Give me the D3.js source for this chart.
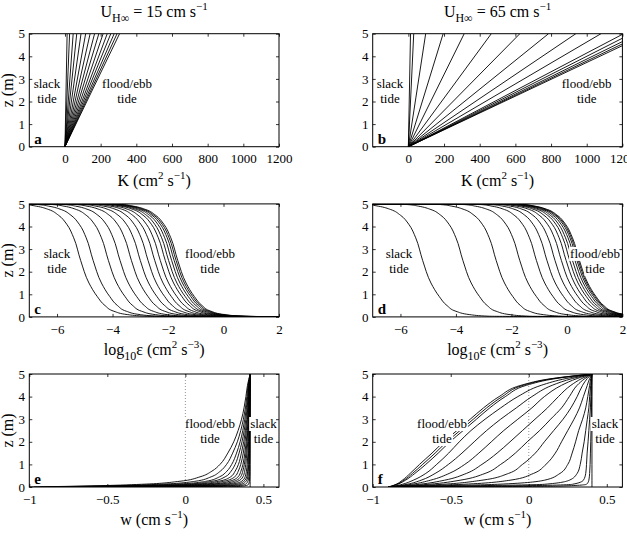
<!DOCTYPE html>
<html><head><meta charset="utf-8">
<script src="https://cdn.jsdelivr.net/npm/d3@7"></script>
<style>body{margin:0;background:#fff}svg{display:block}</style>
</head><body><svg id="chart" width="627" height="542"></svg>
<script>
// ---------- data ----------
const speeds = [15, 65];
const panelLetters = ["a","b","c","d","e","f"];
const zTicks = [0,1,2,3,4,5];
const zTickLabels = ["0","1","2","3","4","5"];
const kTicks = [0,200,400,600,800,1000,1200];
const kTickLabels = ["0","200","400","600","800","1000","1200"];
const epsTicks = [-6,-4,-2,0,2];
const epsTickLabels = ["−6","−4","−2","0","2"];
const wTicks = [-1,-0.5,0,0.5];
const wTickLabels = ["−1","−0.5","0","0.5"];

// K at the surface (z = 5 m) for each tidal phase; K grows linearly from the bed
const kTopA = [12, 26, 46, 66, 90, 116, 141, 166, 190, 214, 237, 257, 276, 292, 306];
const kTopB = [12, 30, 97, 195, 313, 465, 625, 786, 939, 1080, 1207, 1250, 1290, 1319, 1342];

// log10 epsilon profiles at these heights
const zEps = [5, 4.97, 4.9, 4.75, 4.5, 4.1, 3.5, 2.5, 1.5, 0.9, 0.5, 0.25, 0.1, 0.03, 0];
const epsC = [
 [-7.5,-7.15,-6.75,-6.3,-5.95,-5.65,-5.4,-5.15,-4.85,-4.55,-4.27,-3.95,-3.45,-2.75,2.5],
 [-7.5,-6.7,-6.3,-5.85,-5.5,-5.2,-4.95,-4.7,-4.4,-4.1,-3.82,-3.5,-3.0,-2.3,2.5],
 [-7.5,-6.15,-5.75,-5.3,-4.95,-4.65,-4.4,-4.15,-3.85,-3.55,-3.27,-2.95,-2.45,-1.75,2.5],
 [-7.5,-5.73,-5.33,-4.88,-4.53,-4.23,-3.98,-3.73,-3.43,-3.13,-2.85,-2.53,-2.03,-1.33,2.5],
 [-7.5,-5.32,-4.92,-4.47,-4.12,-3.82,-3.57,-3.32,-3.02,-2.72,-2.44,-2.12,-1.62,-0.92,2.5],
 [-7.5,-5.0,-4.6,-4.15,-3.8,-3.5,-3.25,-3.0,-2.7,-2.4,-2.12,-1.8,-1.3,-0.6,2.5],
 [-7.5,-4.72,-4.32,-3.87,-3.52,-3.22,-2.97,-2.72,-2.42,-2.12,-1.84,-1.52,-1.02,-0.32,2.5],
 [-7.5,-4.48,-4.08,-3.63,-3.28,-2.98,-2.73,-2.48,-2.18,-1.88,-1.6,-1.28,-0.78,-0.08,2.5],
 [-7.5,-4.28,-3.88,-3.43,-3.08,-2.78,-2.53,-2.28,-1.98,-1.68,-1.4,-1.08,-0.58,0.12,2.5],
 [-7.5,-4.1,-3.7,-3.25,-2.9,-2.6,-2.35,-2.1,-1.8,-1.5,-1.22,-0.9,-0.4,0.3,2.5],
 [-7.5,-3.98,-3.58,-3.13,-2.78,-2.48,-2.23,-1.98,-1.68,-1.38,-1.1,-0.78,-0.28,0.42,2.5],
 [-7.5,-3.87,-3.47,-3.02,-2.67,-2.37,-2.12,-1.87,-1.57,-1.27,-0.99,-0.67,-0.17,0.53,2.5],
 [-7.5,-3.78,-3.38,-2.93,-2.58,-2.28,-2.03,-1.78,-1.48,-1.18,-0.9,-0.58,-0.08,0.62,2.5],
 [-7.5,-3.71,-3.31,-2.86,-2.51,-2.21,-1.96,-1.71,-1.41,-1.11,-0.83,-0.51,-0.01,0.69,2.5],
 [-7.5,-3.65,-3.25,-2.8,-2.45,-2.15,-1.9,-1.65,-1.35,-1.05,-0.77,-0.45,0.05,0.75,2.5]
];
const epsD = [
 [-7.5,-7.2,-6.8,-6.35,-6.0,-5.7,-5.45,-5.2,-4.9,-4.6,-4.32,-4.0,-3.5,-2.8,3],
 [-7.5,-5.75,-5.35,-4.9,-4.55,-4.25,-4.0,-3.75,-3.45,-3.15,-2.87,-2.55,-2.05,-1.35,3],
 [-7.5,-4.55,-4.15,-3.7,-3.35,-3.05,-2.8,-2.55,-2.25,-1.95,-1.67,-1.35,-0.85,-0.15,3],
 [-7.5,-3.7,-3.3,-2.85,-2.5,-2.2,-1.95,-1.7,-1.4,-1.1,-0.82,-0.5,0.0,0.7,3],
 [-7.5,-3.1,-2.7,-2.25,-1.9,-1.6,-1.35,-1.1,-0.8,-0.5,-0.22,0.1,0.6,1.3,3],
 [-7.5,-2.72,-2.32,-1.87,-1.52,-1.22,-0.97,-0.72,-0.42,-0.12,0.16,0.48,0.98,1.68,3],
 [-7.5,-2.43,-2.03,-1.58,-1.23,-0.93,-0.68,-0.43,-0.13,0.17,0.45,0.77,1.27,1.97,3],
 [-7.5,-2.2,-1.8,-1.35,-1.0,-0.7,-0.45,-0.2,0.1,0.4,0.68,1.0,1.5,2.2,3],
 [-7.5,-2.03,-1.63,-1.18,-0.83,-0.53,-0.28,-0.03,0.27,0.57,0.85,1.17,1.67,2.37,3],
 [-7.5,-1.9,-1.5,-1.05,-0.7,-0.4,-0.15,0.1,0.4,0.7,0.98,1.3,1.8,2.5,3],
 [-7.5,-1.8,-1.4,-0.95,-0.6,-0.3,-0.05,0.2,0.5,0.8,1.08,1.4,1.9,2.6,3],
 [-7.5,-1.71,-1.31,-0.86,-0.51,-0.21,0.04,0.29,0.59,0.89,1.17,1.49,1.99,2.69,3],
 [-7.5,-1.64,-1.24,-0.79,-0.44,-0.14,0.11,0.36,0.66,0.96,1.24,1.56,2.06,2.76,3],
 [-7.5,-1.59,-1.19,-0.74,-0.39,-0.09,0.16,0.41,0.71,1.01,1.29,1.61,2.11,2.81,3],
 [-7.5,-1.55,-1.15,-0.7,-0.35,-0.05,0.2,0.45,0.75,1.05,1.33,1.65,2.15,2.85,3]
];

// vertical velocity profiles
const zWE = [5, 4.5, 4, 3.5, 3, 2.5, 2, 1.5, 1, 0.7, 0.45, 0.25, 0.12, 0.05, 0];
const wE = [
 [0.415,0.415,0.415,0.415,0.415,0.415,0.415,0.415,0.415,0.415,0.415,0.415,0.415,0.415,0.415],
 [0.415,0.415,0.415,0.415,0.415,0.414,0.414,0.414,0.413,0.413,0.412,0.41,0.405,0.38,0.28],
 [0.415,0.415,0.414,0.414,0.414,0.413,0.412,0.411,0.41,0.409,0.407,0.4,0.385,0.33,0.1],
 [0.415,0.414,0.414,0.413,0.412,0.411,0.41,0.408,0.406,0.403,0.4,0.388,0.36,0.27,-0.05],
 [0.415,0.414,0.413,0.412,0.411,0.41,0.408,0.405,0.402,0.399,0.393,0.375,0.33,0.2,-0.2],
 [0.415,0.413,0.412,0.411,0.41,0.407,0.405,0.401,0.396,0.391,0.383,0.36,0.29,0.12,-0.33],
 [0.415,0.413,0.411,0.409,0.407,0.404,0.4,0.394,0.387,0.38,0.369,0.335,0.25,0.04,-0.45],
 [0.415,0.412,0.41,0.408,0.405,0.4,0.395,0.388,0.378,0.368,0.354,0.31,0.2,-0.04,-0.56],
 [0.415,0.411,0.409,0.406,0.402,0.397,0.39,0.381,0.369,0.356,0.338,0.28,0.16,-0.12,-0.66],
 [0.415,0.41,0.407,0.403,0.398,0.391,0.382,0.371,0.355,0.339,0.316,0.245,0.11,-0.2,-0.75],
 [0.415,0.408,0.405,0.4,0.394,0.385,0.374,0.359,0.34,0.319,0.29,0.21,0.06,-0.27,-0.82],
 [0.415,0.407,0.402,0.396,0.388,0.377,0.363,0.344,0.319,0.293,0.255,0.17,0.0,-0.35,-0.88],
 [0.415,0.405,0.399,0.391,0.381,0.368,0.351,0.328,0.297,0.266,0.219,0.13,-0.08,-0.42,-0.93],
 [0.415,0.402,0.394,0.385,0.372,0.355,0.333,0.303,0.264,0.224,0.165,0.06,-0.17,-0.5,-0.97],
 [0.415,0.398,0.388,0.376,0.36,0.338,0.31,0.272,0.222,0.17,0.094,-0.04,-0.28,-0.6,-1.0]
];
const zWF = [5, 4.8, 4.5, 4, 3.5, 3, 2.5, 2, 1.5, 1, 0.6, 0.3, 0.12, 0.04, 0];
const wF = [
 [0.405,0.405,0.405,0.405,0.405,0.405,0.405,0.405,0.405,0.405,0.405,0.405,0.405,0.405,0.405],
 [0.405,0.405,0.404,0.403,0.402,0.4,0.399,0.397,0.395,0.393,0.39,0.385,0.37,0.2,-0.9],
 [0.405,0.403,0.401,0.398,0.395,0.39,0.385,0.38,0.374,0.37,0.365,0.35,0.28,-0.2,-0.9],
 [0.405,0.401,0.397,0.39,0.385,0.375,0.365,0.355,0.342,0.33,0.31,0.26,0.1,-0.5,-0.9],
 [0.405,0.397,0.39,0.378,0.365,0.345,0.32,0.3,0.278,0.25,0.2,0.1,-0.2,-0.65,-0.9],
 [0.405,0.39,0.375,0.35,0.325,0.29,0.25,0.21,0.17,0.11,0.03,-0.12,-0.42,-0.72,-0.9],
 [0.405,0.375,0.345,0.31,0.27,0.22,0.16,0.1,0.042,-0.04,-0.13,-0.3,-0.55,-0.77,-0.9],
 [0.405,0.36,0.31,0.26,0.21,0.14,0.07,-0.01,-0.086,-0.18,-0.28,-0.44,-0.64,-0.8,-0.9],
 [0.405,0.34,0.27,0.19,0.12,0.04,-0.04,-0.12,-0.203,-0.3,-0.4,-0.54,-0.7,-0.82,-0.9],
 [0.405,0.31,0.21,0.1,0.02,-0.07,-0.16,-0.24,-0.32,-0.41,-0.51,-0.63,-0.75,-0.84,-0.9],
 [0.405,0.28,0.15,0.02,-0.08,-0.18,-0.27,-0.35,-0.428,-0.515,-0.6,-0.69,-0.78,-0.85,-0.9],
 [0.405,0.24,0.08,-0.07,-0.18,-0.28,-0.37,-0.445,-0.513,-0.59,-0.66,-0.74,-0.81,-0.86,-0.9],
 [0.405,0.175,-0.015,-0.15,-0.25,-0.335,-0.42,-0.505,-0.58,-0.66,-0.73,-0.79,-0.84,-0.875,-0.9],
 [0.405,0.16,-0.035,-0.17,-0.27,-0.355,-0.44,-0.525,-0.6,-0.68,-0.745,-0.8,-0.845,-0.878,-0.9],
 [0.405,0.15,-0.05,-0.19,-0.29,-0.375,-0.46,-0.545,-0.62,-0.7,-0.76,-0.81,-0.85,-0.88,-0.9]
];

// ---------- drawing ----------
const FONT = '"Liberation Serif","Times New Roman",Times,serif';
const svg = d3.select("#chart").attr("font-family", FONT);
const PW = 249.7, PH = 113;
const colX = [29.3, 372.7], rowY = [33.7, 203.9, 374];
const LW = 0.9;

function makePanel(col, row, xDomain) {
  const x0 = colX[col], y0 = rowY[row];
  const x = d3.scaleLinear().domain(xDomain).range([x0, x0 + PW]);
  const y = d3.scaleLinear().domain([0, 5]).range([y0 + PH, y0]);
  const id = "clip" + col + row;
  svg.append("clipPath").attr("id", id).append("rect")
    .attr("x", x0).attr("y", y0).attr("width", PW).attr("height", PH);
  const g = svg.append("g");
  const plot = g.append("g").attr("clip-path", `url(#${id})`);
  return {x, y, g, plot, x0, y0, col, row};
}

function styleAxis(sel) {
  sel.select(".domain").remove();
  sel.attr("font-family", FONT).attr("font-size", 13);
  sel.selectAll("line").attr("stroke", "#000").attr("stroke-width", 0.8);
  sel.selectAll("text").attr("fill", "#000").attr("font-family", FONT);
}

function drawAxes(p, ticks, labels) {
  const {x, y, g, x0, y0} = p;
  g.append("g").attr("transform", `translate(0,${y0 + PH})`)
    .call(d3.axisBottom(x).tickValues(ticks).tickFormat((d, i) => labels[i]).tickSize(-3).tickPadding(7.4)).call(styleAxis);
  g.append("g").attr("transform", `translate(0,${y0})`)
    .call(d3.axisTop(x).tickValues(ticks).tickFormat("").tickSize(-3)).call(styleAxis);
  g.append("g").attr("transform", `translate(${x0},0)`)
    .call(d3.axisLeft(y).tickValues(zTicks).tickFormat((d, i) => zTickLabels[i]).tickSize(-3).tickPadding(4.3)).call(styleAxis);
  g.append("g").attr("transform", `translate(${x0 + PW},0)`)
    .call(d3.axisRight(y).tickValues(zTicks).tickFormat("").tickSize(-3)).call(styleAxis);
  g.append("rect").attr("x", x0).attr("y", y0).attr("width", PW).attr("height", PH)
    .attr("fill", "none").attr("stroke", "#000").attr("stroke-width", 1);
  g.append("text").attr("x", x0 + 5).attr("y", y0 + PH - 3)
    .attr("font-size", 15).attr("font-weight", "bold").text(panelLetters[p.row * 2 + p.col]);
}

function drawProfiles(p, zLevels, profiles) {
  const line = d3.line().x(d => p.x(d[0])).y(d => p.y(d[1])).curve(d3.curveMonotoneY);
  profiles.forEach(vals => {
    p.plot.append("path").attr("d", line(zLevels.map((z, i) => [vals[i], z])))
      .attr("fill", "none").attr("stroke", "#000").attr("stroke-width", LW);
  });
}

function drawKLines(p, tops) {
  const line = d3.line().x(d => p.x(d[0])).y(d => p.y(d[1]));
  tops.forEach(k => {
    p.plot.append("path").attr("d", line([[0, 0], [k, 5]]))
      .attr("fill", "none").attr("stroke", "#000").attr("stroke-width", LW);
  });
}

function zeroLine(p) {
  p.plot.append("line").attr("x1", p.x(0)).attr("x2", p.x(0)).attr("y1", p.y0).attr("y2", p.y0 + PH)
    .attr("stroke", "#777").attr("stroke-width", 0.8).attr("stroke-dasharray", "1,2");
}

function note(p, dx, lines) {
  const base = [54, 69];
  lines.forEach((s, i) => {
    const t = p.g.append("text").attr("x", p.x0 + dx).attr("y", p.y0 + base[i])
      .attr("text-anchor", "middle").attr("font-size", 13).attr("fill", "#000").text(s);
    const b = t.node().getBBox();
    p.g.insert("rect", () => t.node()).attr("x", b.x - 1).attr("y", b.y + 1)
      .attr("width", b.width + 2).attr("height", b.height - 1).attr("fill", "#fff");
  });
}

function supText(sel, parts) {
  // parts: [text, shift] ; shift: 0 normal, -1 superscript, +1 subscript
  let cur = 0;
  parts.forEach(([s, sh]) => {
    const target = sh === -1 ? -7 : sh === 1 ? 5 : 0;
    const ts = sel.append("tspan").attr("dy", target - cur).text(s);
    if (sh !== 0) ts.attr("font-size", sh === 1 ? 12 : 11);
    cur = target;
  });
}

// panels
const pa = makePanel(0, 0, [-200, 1200]);
const pb = makePanel(1, 0, [-200, 1200]);
const pc = makePanel(0, 1, [-7, 2]);
const pd = makePanel(1, 1, [-7, 2]);
const pe = makePanel(0, 2, [-1, 0.6]);
const pf = makePanel(1, 2, [-1, 0.6]);

drawKLines(pa, kTopA);
drawKLines(pb, kTopB);
drawProfiles(pc, zEps, epsC);
drawProfiles(pd, zEps, epsD);
zeroLine(pe); zeroLine(pf);
drawProfiles(pe, zWE, wE);
drawProfiles(pf, zWF, wF);

note(pa, 17.7, ["slack", "tide"]);   note(pa, 97.7, ["flood/ebb", "tide"]);
note(pb, 17.3, ["slack", "tide"]);   note(pb, 214, ["flood/ebb", "tide"]);
note(pc, 27.7, ["slack", "tide"]);   note(pc, 180.7, ["flood/ebb", "tide"]);
note(pd, 26.3, ["slack", "tide"]);   note(pd, 222.3, ["flood/ebb", "tide"]);
note(pe, 180.7, ["flood/ebb", "tide"]); note(pe, 234.2, ["slack", "tide"]);
note(pf, 69.3, ["flood/ebb", "tide"]);  note(pf, 232.3, ["slack", "tide"]);

drawAxes(pa, kTicks, kTickLabels); drawAxes(pb, kTicks, kTickLabels);
drawAxes(pc, epsTicks, epsTickLabels); drawAxes(pd, epsTicks, epsTickLabels);
drawAxes(pe, wTicks, wTickLabels); drawAxes(pf, wTicks, wTickLabels);

// titles
speeds.forEach((u, c) => {
  const t = svg.append("text").attr("x", colX[c] + PW / 2).attr("y", 16.7)
    .attr("text-anchor", "middle").attr("font-size", 16).attr("fill", "#000");
  supText(t, [["U", 0], ["H∞", 1], [` = ${u} cm s`, 0], ["−1", -1]]);
});

// x labels
const xLabelParts = [
  [["K (cm", 0], ["2", -1], [" s", 0], ["−1", -1], [")", 0]],
  [["log", 0], ["10", 1], ["ε (cm", 0], ["2", -1], [" s", 0], ["−3", -1], [")", 0]],
  [["w (cm s", 0], ["−1", -1], [")", 0]]
];
const xLabelBase = [186, 355, 525];
[0, 1].forEach(c => {
  [0, 1, 2].forEach(r => {
    const t = svg.append("text").attr("x", colX[c] + PW / 2).attr("y", xLabelBase[r])
      .attr("text-anchor", "middle").attr("font-size", 16).attr("fill", "#000");
    supText(t, xLabelParts[r]);
  });
});
// y labels
[0, 1, 2].forEach(r => {
  svg.append("text").attr("transform", `translate(13,${rowY[r] + PH / 2}) rotate(-90)`)
    .attr("text-anchor", "middle").attr("font-size", 16).attr("fill", "#000").text("z (m)");
});
</script></body></html>
